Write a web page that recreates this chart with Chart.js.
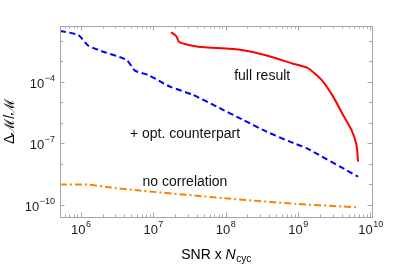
<!DOCTYPE html>
<html>
<head>
<meta charset="utf-8">
<script src="https://cdn.jsdelivr.net/npm/chart.js@4"></script>
<style>
html,body{margin:0;padding:0;background:#fff;}
#c{display:block;}
</style>
</head>
<body>
<canvas id="c" width="399" height="264"></canvas>
<script>
// ---- data ----
const fullX = [1.76e7, 2.00e7, 2.11e7, 2.27e7, 2.75e7, 4.19e7, 1.66e8, 3.48e8, 8.34e8, 1.38e9, 2.11e9, 3.05e9, 4.19e9, 5.47e9, 6.41e9, 6.75e9];
const fullY = [2.65e-2, 1.96e-2, 1.62e-2, 9.25e-3, 7.14e-3, 5.27e-3, 3.64e-3, 2.07e-3, 7.98e-4, 4.66e-4, 1.25e-4, 1.92e-5, 2.45e-6, 4.56e-7, 8.45e-8, 1.29e-8];
const optX = [5.18e5, 9.27e5, 1.27e6, 2.16e6, 4.31e6, 5.61e6, 8.55e6, 1.31e7, 1.71e7, 3.57e7, 7.52e7, 1.75e8, 3.68e8, 7.71e8, 1.31e9, 6.75e9];
const optY = [3.08e-2, 1.96e-2, 5.90e-3, 2.81e-3, 1.18e-3, 3.56e-4, 2.19e-4, 9.66e-5, 5.90e-5, 2.32e-5, 6.24e-6, 1.40e-6, 3.77e-7, 1.22e-7, 5.83e-8, 2.40e-9];
const noCorrX = [5.18e5, 1.27e6, 2.40e6, 6.58e6, 9.77e7, 9.53e8, 6.41e9];
const noCorrY = [9.77e-10, 9.77e-10, 7.30e-10, 4.99e-10, 2.12e-10, 1.12e-10, 7.73e-11];
const xTickValues = [1e6, 1e7, 1e8, 1e9, 1e10];
const xTickExps = ['6', '7', '8', '9', '10'];
const yTickValues = [1e-4, 1e-7, 1e-10];
const yTickExps = ['\u22124', '\u22127', '\u221210'];
const seriesLabels = ['full result', '+ opt. counterpart', 'no correlation'];
const labelX = [3.2e8, 2.75e7, 2.75e7];
const labelY = [2.0e-4, 3.0e-7, 1.25e-9];

const pts = (xs, ys) => xs.map((x, i) => ({x: x, y: ys[i]}));

const FONT = '"Liberation Sans", Arial, sans-serif';

const decorPlugin = {
  id: 'decor',
  afterDraw(chart) {
    const ctx = chart.ctx;
    const a = chart.chartArea;
    const xs = chart.scales.x, ys = chart.scales.y;
    ctx.save();
    // frame
    ctx.strokeStyle = '#a6a6a6';
    ctx.lineWidth = 1;
    ctx.strokeRect(Math.round(a.left) + 0.5, Math.round(a.top) + 0.5, Math.round(a.right - a.left), Math.round(a.bottom - a.top));
    // x ticks
    ctx.beginPath();
    for (let e = 5; e <= 10; e++) {
      for (let m = 1; m <= 9; m++) {
        const v = m * Math.pow(10, e);
        if (v < xs.min || v > xs.max) continue;
        const px = Math.round(xs.getPixelForValue(v)) + 0.5;
        const len = m === 1 ? 4.5 : 2.5;
        ctx.moveTo(px, a.bottom); ctx.lineTo(px, a.bottom - len);
        ctx.moveTo(px, a.top); ctx.lineTo(px, a.top + len);
      }
    }
    // y ticks
    for (let e = -11; e <= -1; e++) {
      const v = Math.pow(10, e);
      if (v < ys.min || v > ys.max) continue;
      const py = Math.round(ys.getPixelForValue(v)) + 0.5;
      const len = (e === -4 || e === -7 || e === -10) ? 4.5 : 3;
      ctx.moveTo(a.left, py); ctx.lineTo(a.left + len, py);
      ctx.moveTo(a.right, py); ctx.lineTo(a.right - len, py);
    }
    ctx.stroke();

    ctx.fillStyle = '#1a1a1a';
    // x tick labels
    xTickValues.forEach((v, i) => {
      const px = xs.getPixelForValue(v);
      ctx.font = '13px ' + FONT;
      const bw = ctx.measureText('10').width;
      ctx.font = '9px ' + FONT;
      const ew = ctx.measureText(xTickExps[i]).width;
      const x0 = px - (bw + ew) / 2;
      ctx.textBaseline = 'alphabetic';
      ctx.textAlign = 'left';
      ctx.font = '13px ' + FONT;
      ctx.fillText('10', x0, a.bottom + 17);
      ctx.font = '9px ' + FONT;
      ctx.fillText(xTickExps[i], x0 + bw + 0.5, a.bottom + 10);
    });
    // y tick labels
    yTickValues.forEach((v, i) => {
      const py = ys.getPixelForValue(v);
      ctx.font = '9px ' + FONT;
      const ew = ctx.measureText(yTickExps[i]).width;
      const right = a.left - 5;
      ctx.textAlign = 'left';
      ctx.textBaseline = 'alphabetic';
      ctx.fillText(yTickExps[i], right - ew, py - 1);
      ctx.font = '13px ' + FONT;
      const bw = ctx.measureText('10').width;
      ctx.fillText('10', right - ew - bw - 0.5, py + 6);
    });
    // x title: SNR x N_cyc
    ctx.fillStyle = '#000';
    const p1 = 'SNR x ', p2 = 'N', p3 = 'cyc';
    ctx.font = '14px ' + FONT;
    const w1 = ctx.measureText(p1).width;
    ctx.font = 'italic 14px ' + FONT;
    const w2 = ctx.measureText(p2).width;
    ctx.font = '10px ' + FONT;
    const w3 = ctx.measureText(p3).width;
    const cx = (a.left + a.right) / 2;
    let tx = cx - (w1 + w2 + w3) / 2;
    const base = 259;
    ctx.textAlign = 'left';
    ctx.font = '14px ' + FONT; ctx.fillText(p1, tx, base); tx += w1;
    ctx.font = 'italic 14px ' + FONT; ctx.fillText(p2, tx, base); tx += w2 + 0.5;
    ctx.font = '10px ' + FONT; ctx.fillText(p3, tx, base + 3);
    // y title
    ctx.save();
    ctx.translate(13.5, (a.top + a.bottom) / 2);
    ctx.rotate(-Math.PI / 2);
    ctx.textAlign = 'center';
    ctx.textBaseline = 'alphabetic';
    ctx.font = '14px ' + FONT;
    ctx.fillText('\u0394\u2133/\u2133', 0, 0);
    ctx.restore();
    // curve labels
    ctx.font = '14px ' + FONT;
    ctx.textAlign = 'center';
    ctx.textBaseline = 'middle';
    ctx.fillStyle = '#111';
    seriesLabels.forEach((t, i) => {
      ctx.fillText(t, xs.getPixelForValue(labelX[i]), ys.getPixelForValue(labelY[i]));
    });
    ctx.restore();
  }
};

new Chart(document.getElementById('c'), {
  type: 'line',
  data: {
    datasets: [
      {label: seriesLabels[0], data: pts(fullX, fullY), borderColor: '#ff0000', borderWidth: 2, pointRadius: 0, tension: 0.2, fill: false},
      {label: seriesLabels[1], data: pts(optX, optY), borderColor: '#0000ff', borderWidth: 2, borderDash: [6, 3.5], pointRadius: 0, tension: 0.2, fill: false},
      {label: seriesLabels[2], data: pts(noCorrX, noCorrY), borderColor: '#ff8000', borderWidth: 2, borderDash: [7, 3, 2, 3], pointRadius: 0, tension: 0.2, fill: false}
    ]
  },
  options: {
    responsive: false,
    animation: false,
    devicePixelRatio: 1,
    layout: {padding: {left: 60, right: 27, top: 26, bottom: 47}},
    plugins: {legend: {display: false}, tooltip: {enabled: false}},
    scales: {
      x: {type: 'logarithmic', min: 5.18e5, max: 1.05e10, display: false},
      y: {type: 'logarithmic', min: 2.57e-11, max: 5.37e-2, display: false}
    }
  },
  plugins: [decorPlugin]
});
</script>
</body>
</html>
